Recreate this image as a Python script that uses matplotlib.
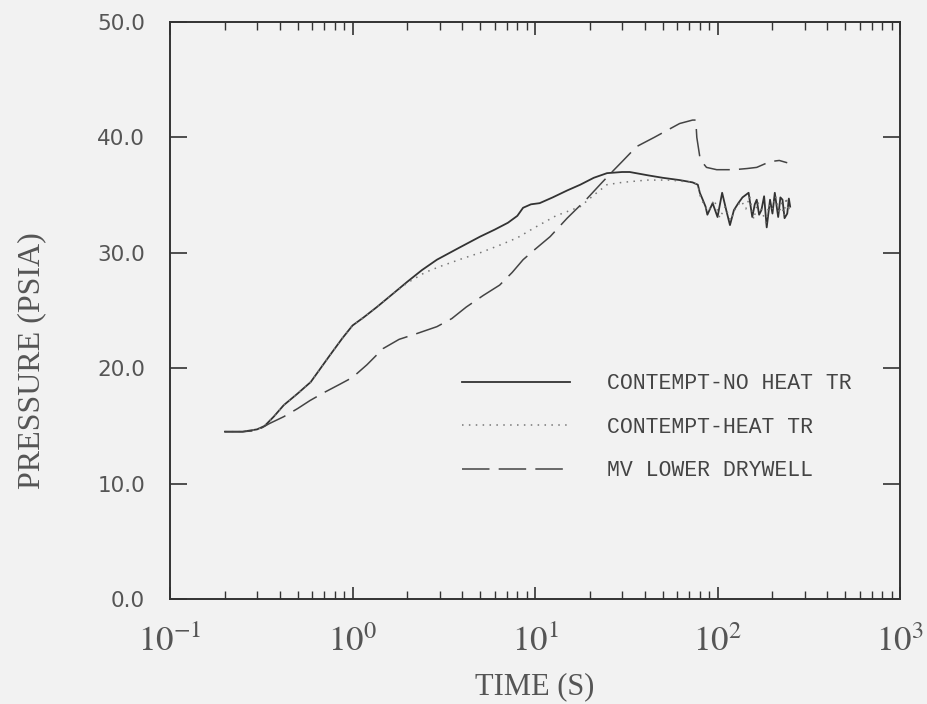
import numpy as np
import matplotlib.pyplot as plt
from matplotlib.ticker import LogLocator, FuncFormatter, NullFormatter

# Containment pressure vs time (s, psia)
t_noheat = [0.2, 0.25, 0.3, 0.33, 0.37, 0.42, 0.5, 0.59, 0.75, 0.88, 1.0, 1.15, 1.36, 1.65,
            2.0, 2.4, 2.9, 3.8, 5.0, 6.0, 7.1, 8.0, 8.6, 9.5, 10.6, 12.5, 15.0, 17.7,
            21.0, 24.8, 30.0, 33.0, 42.0, 50.0, 62.0, 73.0, 78.0, 80.0, 83.0, 86.0,
            88.0, 94.0, 100.0, 106.0, 112.0, 117.0, 123.0, 130.0, 137.0, 148.0,
            155.0, 160.0, 164.0, 169.0, 174.0, 180.0, 186.0, 194.0, 200.0, 206.0,
            211.0, 215.0, 221.0, 227.0, 233.0, 241.0, 246.0, 250.0]
p_noheat = [14.5, 14.5, 14.7, 15.0, 15.8, 16.8, 17.8, 18.8, 21.1, 22.6, 23.7, 24.4, 25.3, 26.4,
            27.5, 28.5, 29.4, 30.4, 31.4, 32.0, 32.6, 33.2, 33.9, 34.2, 34.3, 34.8, 35.4,
            35.9, 36.5, 36.9, 37.0, 37.0, 36.7, 36.5, 36.3, 36.1, 35.9, 35.2, 34.6, 34.0,
            33.3, 34.3, 33.1, 35.2, 33.6, 32.4, 33.7, 34.3, 34.8, 35.2, 33.1, 34.2, 34.6,
            33.3, 33.7, 34.9, 32.2, 34.6, 33.4, 35.2, 34.0, 33.1, 34.8, 34.6, 33.0, 33.4,
            34.7, 34.0]

t_heat = [0.2, 0.25, 0.3, 0.33, 0.37, 0.42, 0.5, 0.59, 0.75, 0.88, 1.0, 1.15, 1.36, 1.65,
          2.0, 2.5, 3.0, 4.0, 5.0, 6.5, 8.0, 10.0, 13.0, 17.7, 21.0, 24.8, 30.0, 41.0,
          55.0, 73.0, 78.0, 80.0, 84.0, 89.0, 96.0, 103.0, 110.0, 118.0, 126.0, 135.0,
          143.0, 150.0, 158.0, 166.0, 176.0, 184.0, 191.0, 199.0, 208.0, 218.0, 224.0,
          231.0, 238.0, 244.0, 250.0]
p_heat = [14.5, 14.5, 14.7, 15.0, 15.8, 16.8, 17.8, 18.8, 21.1, 22.6, 23.7, 24.4, 25.3, 26.4,
          27.4, 28.3, 28.8, 29.5, 30.0, 30.7, 31.3, 32.2, 33.2, 34.0, 35.0, 35.9, 36.1,
          36.3, 36.3, 36.1, 35.9, 35.0, 34.2, 33.6, 34.6, 33.0, 34.0, 32.8, 33.9, 34.5,
          33.8, 34.9, 32.9, 34.4, 33.5, 32.6, 34.2, 33.7, 34.9, 33.4, 34.3, 33.2, 34.8,
          33.6, 34.2]

t_mv = [0.2, 0.25, 0.3, 0.35, 0.42, 0.5, 0.585, 0.7, 0.85, 1.0, 1.2, 1.47, 1.8, 2.25,
        2.9, 3.5, 4.2, 5.2, 6.4, 7.5, 8.6, 10.0, 12.1, 15.0, 19.3, 23.0, 26.4, 30.0,
        36.0, 45.0, 52.8, 62.0, 73.0, 76.0, 77.0, 80.0, 84.0, 87.0, 99.0, 123.0, 145.0,
        164.0, 194.0, 218.0, 241.0]
p_mv = [14.5, 14.5, 14.6, 15.2, 15.8, 16.5, 17.2, 17.9, 18.6, 19.2, 20.3, 21.7, 22.5,
        23.0, 23.6, 24.3, 25.3, 26.3, 27.2, 28.3, 29.4, 30.3, 31.4, 33.0, 34.7, 36.0,
        37.0, 37.9, 39.2, 40.0, 40.6, 41.2, 41.5, 41.5, 40.0, 38.3, 37.7, 37.4, 37.2,
        37.2, 37.3, 37.4, 37.9, 38.0, 37.8]

labels = ['CONTEMPT-NO HEAT TR', 'CONTEMPT-HEAT TR', 'MV LOWER DRYWELL']
p_ticks = [0, 10, 20, 30, 40, 50]

bg = '#f2f2f2'
ink = '#333333'
grey_txt = '#555555'
plt.rcParams['mathtext.fontset'] = 'stix'

fig = plt.figure(figsize=(9.27, 7.04), dpi=100, facecolor=bg)
ax = fig.add_axes([0.1834, 0.1491, 0.7875, 0.8197], facecolor=bg)

ax.plot(t_noheat, p_noheat, color=ink, lw=1.3, label=labels[0])
ax.plot(t_heat, p_heat, color='#777777', lw=1.1, dashes=(1, 3.5), label=labels[1])
ax.plot(t_mv, p_mv, color='#444444', lw=1.1, dashes=(18, 6), label=labels[2])

ax.set_xscale('log')
ax.set_xlim(0.1, 1000)
ax.set_ylim(0, 50)

ax.xaxis.set_major_locator(LogLocator(base=10))
ax.xaxis.set_minor_locator(LogLocator(base=10, subs=np.arange(2, 10)))
ax.xaxis.set_major_formatter(FuncFormatter(lambda v, pos: r'$10^{%d}$' % round(np.log10(v))))
ax.xaxis.set_minor_formatter(NullFormatter())
ax.set_yticks(p_ticks)
ax.set_yticklabels(['%.1f' % v for v in p_ticks],
                   family='DejaVu Sans', fontsize=15.5, color=grey_txt)

ax.tick_params(axis='x', which='major', direction='in', length=9, width=1.2,
               top=True, colors=ink, labelsize=25, pad=18, labelcolor=grey_txt)
ax.tick_params(axis='x', which='minor', direction='in', length=6, width=1.0,
               top=True, colors=ink)
ax.tick_params(axis='y', which='major', direction='in', length=12, width=1.2,
               right=True, colors=ink, pad=18, labelcolor=grey_txt)

for s in ax.spines.values():
    s.set_color(ink)
    s.set_linewidth(1.4)

ax.set_xlabel('TIME (S)', family='Liberation Serif', fontsize=22, color=grey_txt,
              labelpad=10)
ax.set_ylabel('PRESSURE (PSIA)', family='Liberation Serif', fontsize=23,
              color=grey_txt)
ax.yaxis.set_label_coords(-0.17, 0.414)

leg = ax.legend(loc='upper left', bbox_to_anchor=(0.374, 0.425), frameon=False,
                handlelength=5.0, handletextpad=1.7, labelspacing=1.05,
                prop={'family': 'Liberation Mono', 'size': 15.5})
for txt in leg.get_texts():
    txt.set_color('#444444')

fig.savefig('out.png', dpi=100, facecolor=bg)
